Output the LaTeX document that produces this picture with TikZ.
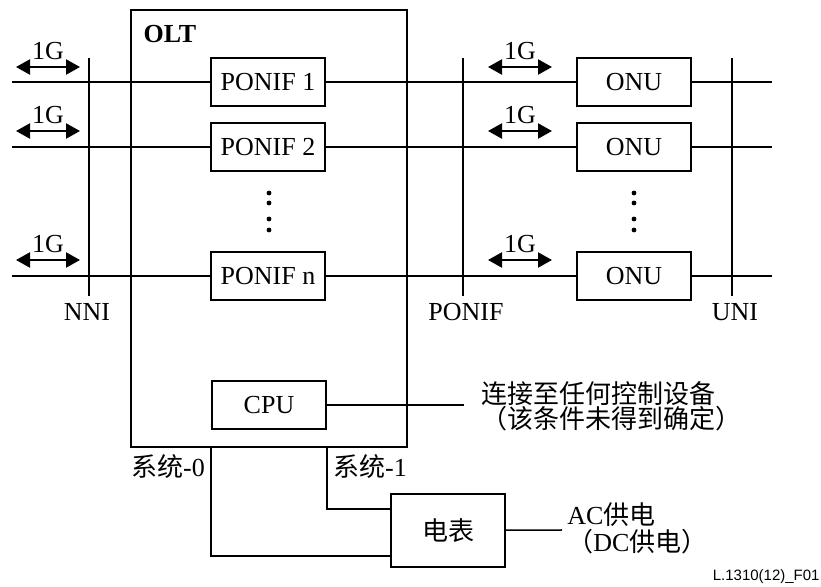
\documentclass[tikz,border=0pt]{standalone}
\usepackage{fontspec}
\setmainfont{Liberation Serif}
\newfontfamily\cjk{Noto Sans CJK SC}
\newfontfamily\tagfont{Liberation Sans}
\usetikzlibrary{positioning,arrows.meta}

\tikzset{
  bloco/.style={draw, line width=0.85pt, minimum width=57pt, minimum height=24pt, inner sep=0pt},
  fio/.style={line width=0.75pt},
  taxa/.style={{Triangle[length=7pt,width=7.5pt]}-{Triangle[length=7pt,width=7.5pt]}, line width=1.1pt},
  rotulo/.style={inner sep=0pt}
}

\begin{document}
\begin{tikzpicture}[x=0.5pt, y=-0.5pt, every node/.style={font=\fontsize{13}{15}\selectfont}]
        \useasboundingbox (0,0) rectangle (821,587);

        % Caixa OLT
        \node[draw, line width=0.85pt, minimum width=138pt, minimum height=218.5pt, anchor=north west] (olt) at (130,9) {};
        \node[rotulo, font=\fontsize{13}{15}\selectfont\bfseries] (oltlab) at (170,34) {OLT};

        % Interfaces PON e ONUs
        \node[bloco] (pon1) at (268,82) {PONIF 1};
        \node[bloco] (pon2) at (268,147) {PONIF 2};
        \node[bloco] (pon3) at (268,276) {PONIF n};
        \node[bloco] (onu1) at (634,82) {ONU};
        \node[bloco] (onu2) at (634,147) {ONU};
        \node[bloco] (onu3) at (634,276) {ONU};

        % Linhas horizontais
        \coordinate (in1) at (12,82);  \coordinate (out1) at (772,82);
        \coordinate (in2) at (12,147); \coordinate (out2) at (772,147);
        \coordinate (in3) at (12,276); \coordinate (out3) at (772,276);
        \draw[fio] (in1) -- (pon1); \draw[fio] (pon1) -- (onu1); \draw[fio] (onu1) -- (out1);
        \draw[fio] (in2) -- (pon2); \draw[fio] (pon2) -- (onu2); \draw[fio] (onu2) -- (out2);
        \draw[fio] (in3) -- (pon3); \draw[fio] (pon3) -- (onu3); \draw[fio] (onu3) -- (out3);

        % Pontos de referencia
        \draw[fio] (89,58) -- (89,296);
        \draw[fio] (463,58) -- (463,296);
        \draw[fio] (732,58) -- (732,296);
        \node[rotulo] (nni) at (87,312) {NNI};
        \node[rotulo] (ponif) at (466,312) {PONIF};
        \node[rotulo] (uni) at (735,312) {UNI};

        % Taxas 1G
        \draw[taxa] (16,67) -- (80,67);   \node[rotulo] (g1) at (48,51) {1G};
        \draw[taxa] (16,131) -- (80,131); \node[rotulo] (g2) at (48,115) {1G};
        \draw[taxa] (16,260) -- (80,260); \node[rotulo] (g3) at (48,244) {1G};
        \draw[taxa] (488,67) -- (552,67);   \node[rotulo] (g4) at (520,51) {1G};
        \draw[taxa] (488,131) -- (552,131); \node[rotulo] (g5) at (520,115) {1G};
        \draw[taxa] (488,260) -- (552,260); \node[rotulo] (g6) at (520,244) {1G};

        % Reticencias
        \foreach \yy in {193,203,219,230} {
          \fill (269,\yy) circle (1.2pt);
          \fill (634,\yy) circle (1.2pt);
        }

        % CPU
        \node[bloco, minimum width=57pt] (cpu) at (269,405) {CPU};
        \coordinate (ctl) at (464,405);
        \draw[fio] (cpu) -- (ctl);
        \node[rotulo, anchor=west, align=left, font=\fontsize{13}{12.5}\selectfont\cjk] (ctltxt) at (481,406.5) {连接至任何控制设备\\（该条件未得到确定）};

        % Medidor
        \node[bloco, minimum width=57pt, minimum height=36.5pt, font=\fontsize{13}{15}\selectfont\cjk] (meter) at (448,530.5) {电表};
        \draw[fio] (cpu.west |- olt.south) |- ([yshift=6pt]meter.south west);
        \draw[fio] (cpu.east |- olt.south) |- ([yshift=-8pt]meter.north west);
        \node[rotulo] (sys0) at (168,467) {{\cjk 系统}-0};
        \node[rotulo] (sys1) at (370,467) {{\cjk 系统}-1};
        \coordinate (pwr) at (562,530);
        \draw[fio] (meter) -- (pwr);
        \node[rotulo, anchor=west, align=left, font=\fontsize{13}{13.5}\selectfont] (pwrtxt) at (567,528.5) {AC{\cjk 供电}\\{\cjk （}DC{\cjk 供电）}};

        % Figura
        \node[rotulo, anchor=east, font=\tagfont\fontsize{7.5}{9}\selectfont] (fig) at (820,577) {L.1310(12)\_F01};
    \end{tikzpicture}
\end{document}
